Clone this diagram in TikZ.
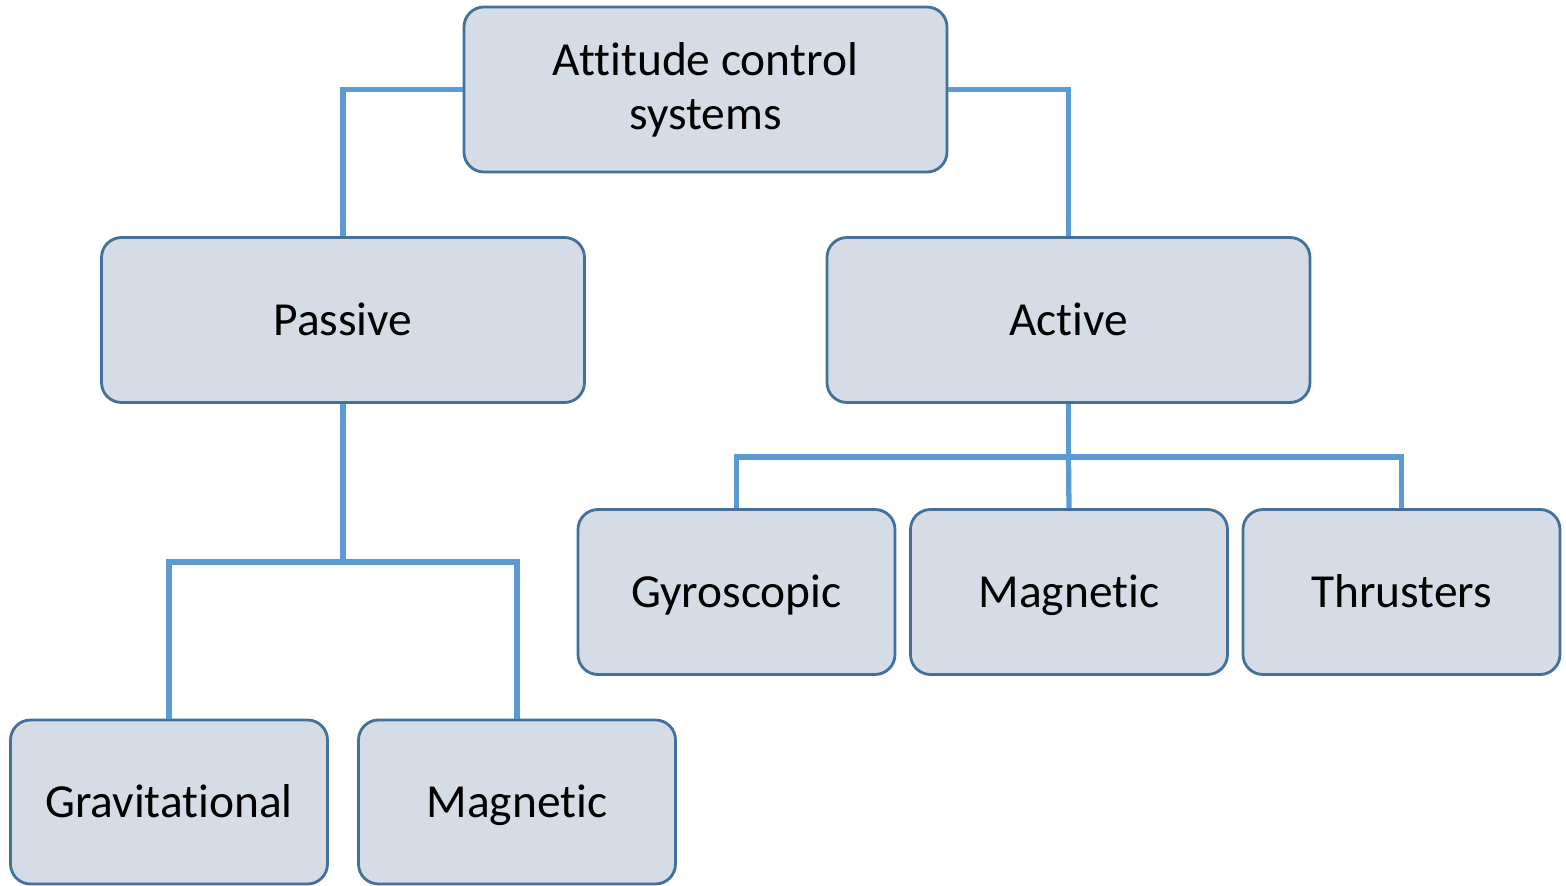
\documentclass[tikz,border=0pt]{standalone}
\usepackage{fontspec}
\setmainfont{Carlito}[Ligatures={NoCommon}]
\usepackage{tikz}
\usetikzlibrary{positioning}
\definecolor{boxfill}{HTML}{D6DCE5}
\definecolor{boxline}{HTML}{41719C}
\definecolor{linkblue}{HTML}{5B9BD5}

\begin{document}
\begin{tikzpicture}[
  box/.style={draw=boxline,line width=0.8pt,fill=boxfill,rounded corners=0.2cm,
    align=center,inner sep=0pt,font=\fontsize{13.5}{15.4}\selectfont},
  bigbox/.style={box,minimum width=4.83cm,minimum height=1.65cm},
  smallbox/.style={box,minimum width=3.17cm,minimum height=1.65cm},
  oneline/.style={text height=0.3cm,text depth=0cm},
  link/.style={draw=linkblue,line width=1.5pt}]
\useasboundingbox (0,0) rectangle (15.66,-8.86);
%\draw[help lines] (0,0) grid (16,-9);
\node[bigbox] (acs) at (7.055,-0.895) {Attitude control\\systems};
\node[bigbox,oneline] (passive) at (3.43,-3.2) {Passive};
\node[bigbox,oneline] (active) at (10.685,-3.2) {Active};
\node[smallbox,oneline] (gyro) at (7.365,-5.92) {Gyroscopic};
\node[smallbox,oneline] (magact) at (10.69,-5.92) {Magnetic};
\node[smallbox,oneline] (thrust) at (14.015,-5.92) {Thrusters};
\node[smallbox,oneline,minimum height=1.64cm] (grav) at (1.69,-8.02) {Gravitational};
\node[smallbox,oneline,minimum height=1.64cm] (magpas) at (5.17,-8.02) {Magnetic};
% links
\draw[link] (acs.west) -| (passive.north);
\draw[link] (acs.east) -| (active.north);
\draw[link] (active.south) -- ++(0,-0.53) coordinate (abus);
\draw[link] (gyro.north) |- (abus) -| (thrust.north);
\draw[link] (abus) -- (magact.north);
\draw[link] (passive.south) -- ++(0,-1.58) coordinate (pbus);
\draw[link] (grav.north) |- (pbus) -| (magpas.north);
\end{tikzpicture}
\end{document}
